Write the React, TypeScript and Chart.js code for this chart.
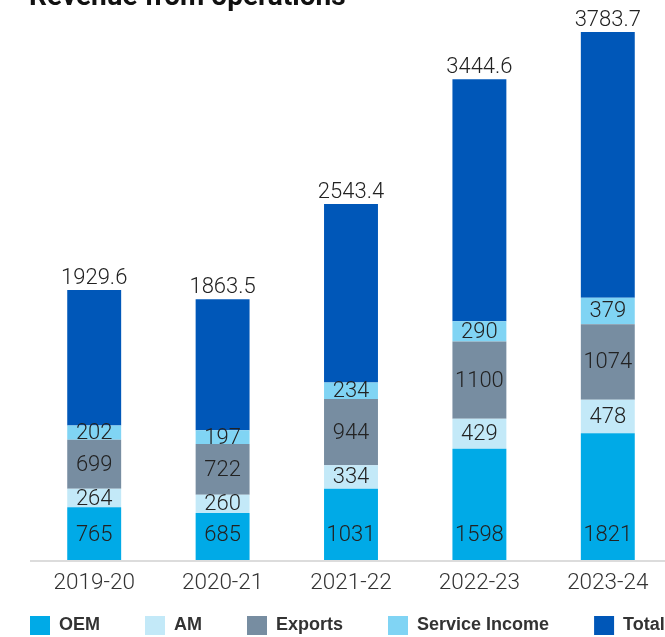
import React, { useEffect, useRef } from 'react';
import { Chart, registerables } from 'chart.js';

Chart.register(...registerables);

const categories = ['2019-20', '2020-21', '2021-22', '2022-23', '2023-24'];
const oemValues = [765, 685, 1031, 1598, 1821];
const amValues = [264, 260, 334, 429, 478];
const exportValues = [699, 722, 944, 1100, 1074];
const serviceValues = [202, 197, 234, 290, 379];
const totalValues = [1929.6, 1863.5, 2543.4, 3444.6, 3783.7];
const totalLabels = ['1929.6', '1863.5', '2543.4', '3444.6', '3783.7'];
const titleText = 'Revenue from operations';

const numFont = { family: 'Roboto', size: 22.5, weight: '300' as any };

const titlePlugin = {
  id: 'clippedTitle',
  afterDraw(chart: any) {
    const { ctx, chartArea } = chart;
    ctx.save();
    ctx.font = 'bold 28px Roboto';
    ctx.fillStyle = '#111';
    ctx.textAlign = 'left';
    ctx.textBaseline = 'alphabetic';
    ctx.fillText(titleText, chartArea.left - 1, 5);
    ctx.restore();
  },
};

const labelPlugin = {
  id: 'barLabels',
  afterDatasetsDraw(chart: any) {
    const { ctx } = chart;
    ctx.save();
    ctx.font = '300 22px Roboto';
    ctx.fillStyle = '#222';
    ctx.textAlign = 'center';
    chart.data.datasets.forEach((ds: any, i: number) => {
      const meta = chart.getDatasetMeta(i);
      meta.data.forEach((bar: any, j: number) => {
        const { x, y, base } = bar.getProps(['x', 'y', 'base'], true);
        if (ds.label === 'Total') {
          ctx.textBaseline = 'alphabetic';
          ctx.fillText(totalLabels[j], x, y - 6);
        } else if (ds.label === 'OEM') {
          ctx.textBaseline = 'middle';
          ctx.fillText(String(ds.data[j]), x, base - 25);
        } else {
          ctx.textBaseline = 'middle';
          ctx.fillText(String(ds.data[j]), x, (y + base) / 2 + 1);
        }
      });
    });
    ctx.restore();
  },
};

export default function App() {
  const ref = useRef<HTMLCanvasElement>(null);
  useEffect(() => {
    if (!ref.current) return;
    const chart = new Chart(ref.current, {
      type: 'bar',
      data: {
        labels: categories,
        datasets: [
          { label: 'OEM', data: oemValues, backgroundColor: '#00aae7' },
          { label: 'AM', data: amValues, backgroundColor: '#c3e9f8' },
          { label: 'Exports', data: exportValues, backgroundColor: '#778da1' },
          { label: 'Service Income', data: serviceValues, backgroundColor: '#80d4f4' },
          { label: 'Total', data: totalValues, backgroundColor: '#0057b8' },
        ],
      },
      options: {
        animation: false,
        responsive: true,
        maintainAspectRatio: false,
        datasets: { bar: { categoryPercentage: 1, barPercentage: 0.42, borderWidth: 0 } },
        layout: { padding: { left: 45, top: 13.5, right: 0, bottom: 0 } },
        plugins: {
          title: { display: false },
          tooltip: { enabled: false },
          legend: {
            position: 'bottom',
            align: 'start',
            labels: {
              boxWidth: 20,
              boxHeight: 19,
              padding: 45,
              color: '#333',
              font: { family: "'Liberation Sans', Arial, sans-serif", size: 18, weight: 'bold' },
            },
          },
        },
        scales: {
          x: {
            stacked: true,
            grid: { display: false, drawTicks: false },
            border: { display: false },
            ticks: { color: '#333', font: numFont, mirror: true, padding: -36 },
            afterFit: (s: any) => {
              s.height = 10;
            },
          },
          y: {
            stacked: true,
            min: 0,
            max: 7800,
            ticks: { display: false, stepSize: 1000 },
            border: { display: false },
            grid: {
              drawTicks: false,
              lineWidth: 2,
              color: (c: any) => (c.tick && c.tick.value % 1000 === 0 ? '#dcdcdc' : 'rgba(0,0,0,0)'),
            },
            afterFit: (s: any) => {
              s.width = 45;
            },
          },
          y2: {
            position: 'right',
            display: true,
            ticks: { display: false },
            grid: { display: false },
            border: { display: false },
            afterFit: (s: any) => {
              s.width = 68;
            },
          },
        },
      },
      plugins: [labelPlugin, titlePlugin],
    });
    return () => chart.destroy();
  }, []);

  return (
    <div style={{ position: 'fixed', left: 0, top: 0, width: '100vw', height: '100vh', overflow: 'hidden', background: '#fff' }}>
      <div style={{ position: 'absolute', left: -60, top: 0, width: 800, height: 645 }}>
        <canvas ref={ref} />
      </div>
    </div>
  );
}
